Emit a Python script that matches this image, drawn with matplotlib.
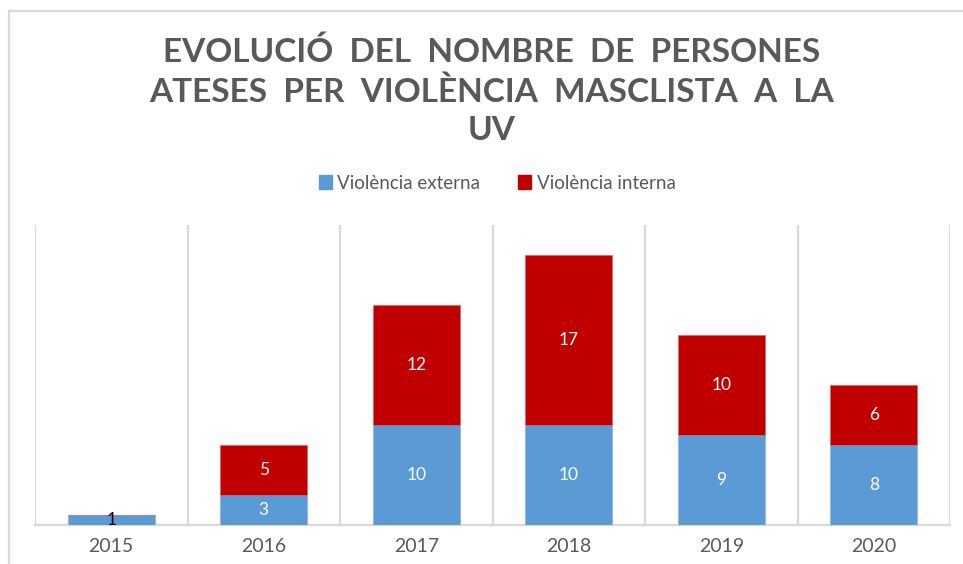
import matplotlib
matplotlib.use("Agg")
import matplotlib.pyplot as plt
from matplotlib.patches import Rectangle, Patch

# ==========================
# Data
# ==========================
years = ["2015", "2016", "2017", "2018", "2019", "2020"]
externa = [1, 3, 10, 10, 9, 8]
interna = [0, 5, 12, 17, 10, 6]

blue = "#5B9BD5"
red = "#C00000"
grey_text = "#595959"
grid_col = "#D9D9D9"

plt.rcParams["font.family"] = ["Lato", "DejaVu Sans"]

fig = plt.figure(figsize=(9.63, 5.64), dpi=100)
ax = fig.add_axes([35 / 963, 39 / 564, 915 / 963, 300 / 564])

x = list(range(len(years)))
width = 0.57

ax.bar(x, externa, width, color=blue, edgecolor="#8AB8E6", linewidth=0.6, zorder=3)
ax.bar(x, interna, width, bottom=externa, color=red, edgecolor="#D86A6A", linewidth=0.6, zorder=3)

# data labels
for i in x:
    if externa[i] > 0:
        col = "black" if externa[i] < 2 else "white"
        ax.text(i, externa[i] / 2, str(externa[i]), ha="center", va="center",
                color=col, fontsize=12.5, zorder=4)
    if interna[i] > 0:
        ax.text(i, externa[i] + interna[i] / 2, str(interna[i]), ha="center",
                va="center", color="white", fontsize=12.5, zorder=4)

ax.set_xlim(-0.5, len(years) - 0.5)
ax.set_ylim(0, 30)
ax.set_yticks([])
ax.set_xticks(x)
ax.set_xticklabels(years, color=grey_text, fontsize=14)
ax.tick_params(axis="x", length=0, pad=9)

# vertical separators between categories
for b in range(len(years) + 1):
    ax.axvline(b - 0.5, color=grid_col, linewidth=1.6, zorder=1)

for s in ["top", "right", "left"]:
    ax.spines[s].set_visible(False)
ax.spines["bottom"].set_color(grid_col)
ax.spines["bottom"].set_linewidth(1.6)

# title
fig.text(492 / 963, 1 - 91 / 564,
         "EVOLUCIÓ  DEL  NOMBRE  DE  PERSONES\nATESES  PER  VIOLÈNCIA  MASCLISTA  A  LA\nUV",
         ha="center", va="center", fontsize=24, fontweight="bold",
         color=grey_text, linespacing=1.38)

# legend
handles = [Patch(color=blue, label="Violència externa"),
           Patch(color=red, label="Violència interna")]
fig.legend(handles=handles, loc="center", bbox_to_anchor=(497 / 963, 1 - 183 / 564),
           ncol=2, frameon=False, fontsize=13.5, handlelength=0.7, handleheight=0.7,
           handletextpad=0.3, columnspacing=2.0, labelcolor=grey_text)

# outer chart border
fig.add_artist(Rectangle((9 / 963, -0.1), 1.2, 1.1 - 11 / 564,
                         transform=fig.transFigure, fill=False,
                         edgecolor=grid_col, linewidth=1.6))

fig.savefig("out.png", dpi=100)
